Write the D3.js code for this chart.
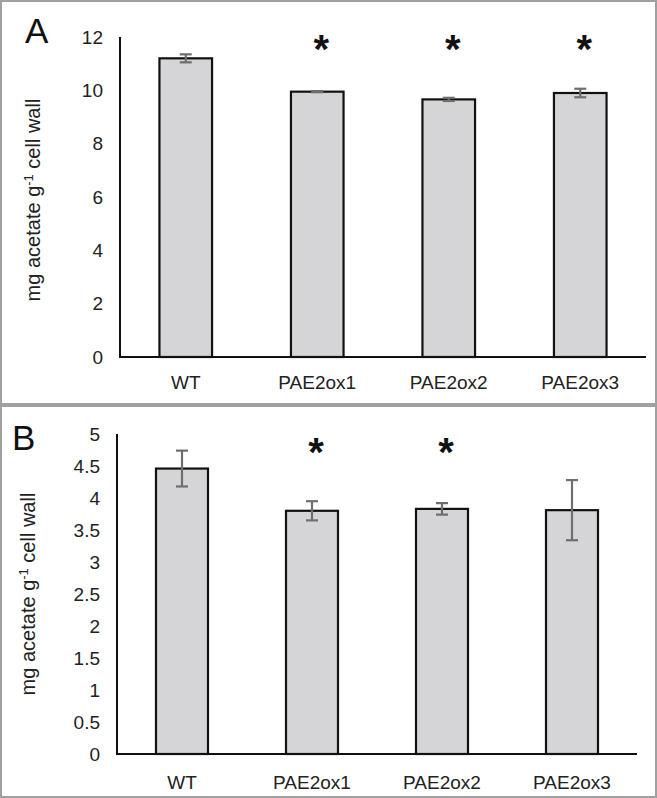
<!DOCTYPE html>
<html>
<head>
<meta charset="utf-8">
<script src="https://cdn.jsdelivr.net/npm/d3@7"></script>
<style>
  html, body { margin: 0; padding: 0; background: #fff; }
  svg { display: block; }
  text { font-family: "Liberation Sans", Arial, sans-serif; }
</style>
</head>
<body>
<svg id="chart" width="657" height="798"></svg>
<script>
// ---- data ----
const categories = ["WT", "PAE2ox1", "PAE2ox2", "PAE2ox3"];
const meansA = [11.2, 9.95, 9.66, 9.9];
const errorsA = [0.15, 0.02, 0.06, 0.16];
const significantA = [false, true, true, true];
const ticksA = [0, 2, 4, 6, 8, 10, 12];

const meansB = [4.46, 3.80, 3.83, 3.81];
const errorsB = [0.28, 0.15, 0.09, 0.47];
const significantB = [false, true, true, false];
const ticksB = [0, 0.5, 1, 1.5, 2, 2.5, 3, 3.5, 4, 4.5, 5];

const yTitle = "mg acetate g";

const svg = d3.select("#chart");

// panel frames
svg.append("rect").attr("x", 1).attr("y", 1).attr("width", 655).attr("height", 403)
  .attr("fill", "none").attr("stroke", "#a0a0a0").attr("stroke-width", 2);
svg.append("rect").attr("x", 1).attr("y", 406).attr("width", 655).attr("height", 391)
  .attr("fill", "none").attr("stroke", "#a0a0a0").attr("stroke-width", 2);

function panel(cfg) {
  const g = svg.append("g");
  const x = d3.scaleBand().domain(categories).range([cfg.x0, cfg.x1])
    .paddingInner(0.6).paddingOuter(0.3);
  const y = d3.scaleLinear().domain([0, cfg.ymax]).range([cfg.yBottom, cfg.yTop]);

  // y axis
  const yAxis = d3.axisLeft(y).tickValues(cfg.ticks).tickSize(0).tickPadding(17)
    .tickFormat(d3.format("~g"));
  const ya = g.append("g").attr("transform", `translate(${cfg.x0},0)`).call(yAxis);
  ya.select(".domain").remove();
  ya.selectAll("text").attr("font-size", 19).attr("fill", "#222")
    .style("font-family", "'Liberation Sans', Arial, sans-serif");

  // bars
  const data = categories.map((c, i) => ({ c, m: cfg.means[i], e: cfg.errors[i], s: cfg.sig[i] }));
  g.selectAll("rect.bar").data(data).join("rect").attr("class", "bar")
    .attr("x", d => x(d.c)).attr("width", x.bandwidth())
    .attr("y", d => y(d.m)).attr("height", d => y(0) - y(d.m))
    .attr("fill", "#d5d5d7").attr("stroke", "#111").attr("stroke-width", 2.2);

  // error bars
  const eg = g.selectAll("g.err").data(data).join("g").attr("class", "err")
    .attr("stroke", "#6e6e6e").attr("stroke-width", 2.2);
  eg.append("line")
    .attr("x1", d => x(d.c) + x.bandwidth() / 2).attr("x2", d => x(d.c) + x.bandwidth() / 2)
    .attr("y1", d => y(d.m + d.e)).attr("y2", d => y(d.m - d.e));
  eg.append("line")
    .attr("x1", d => x(d.c) + x.bandwidth() / 2 - 6).attr("x2", d => x(d.c) + x.bandwidth() / 2 + 6)
    .attr("y1", d => y(d.m + d.e)).attr("y2", d => y(d.m + d.e));
  eg.append("line")
    .attr("x1", d => x(d.c) + x.bandwidth() / 2 - 6).attr("x2", d => x(d.c) + x.bandwidth() / 2 + 6)
    .attr("y1", d => y(d.m - d.e)).attr("y2", d => y(d.m - d.e));

  // asterisks
  g.selectAll("text.star").data(data.filter(d => d.s)).join("text").attr("class", "star")
    .attr("x", d => x(d.c) + x.bandwidth() / 2 + 4)
    .attr("y", cfg.starY)
    .attr("text-anchor", "middle").attr("font-size", 40).attr("font-weight", "bold")
    .attr("fill", "#111").text("*");

  // axis lines
  g.append("line").attr("x1", cfg.x0).attr("x2", cfg.x0).attr("y1", cfg.yTop).attr("y2", cfg.yBottom)
    .attr("stroke", "#111").attr("stroke-width", 2);
  g.append("line").attr("x1", cfg.x0 - 1).attr("x2", cfg.x1).attr("y1", cfg.yBottom).attr("y2", cfg.yBottom)
    .attr("stroke", "#111").attr("stroke-width", 2);

  // x labels
  g.selectAll("text.xl").data(categories).join("text").attr("class", "xl")
    .attr("x", d => x(d) + x.bandwidth() / 2).attr("y", cfg.xLabelY)
    .attr("text-anchor", "middle").attr("font-size", 19).attr("fill", "#222").text(d => d);

  // y title
  const t = g.append("text")
    .attr("transform", `translate(${cfg.titleX},${cfg.titleY}) rotate(-90)`)
    .attr("text-anchor", "middle").attr("font-size", 20).attr("fill", "#222");
  t.append("tspan").text(yTitle);
  t.append("tspan").attr("dy", -7).attr("font-size", 13).text("-1");
  t.append("tspan").attr("dy", 7).text(" cell wall");

  // panel letter
  g.append("text").attr("x", cfg.letterX).attr("y", cfg.letterY)
    .attr("font-size", 35).attr("fill", "#111").text(cfg.letter);
}

panel({
  letter: "A", letterX: 25, letterY: 43,
  x0: 120, x1: 646, yTop: 37, yBottom: 357, ymax: 12, ticks: ticksA,
  means: meansA, errors: errorsA, sig: significantA,
  starY: 63, xLabelY: 389, titleX: 40, titleY: 200
});

panel({
  letter: "B", letterX: 12, letterY: 450,
  x0: 117, x1: 637, yTop: 434, yBottom: 754, ymax: 5, ticks: ticksB,
  means: meansB, errors: errorsB, sig: significantB,
  starY: 466, xLabelY: 789, titleX: 35, titleY: 594
});
</script>
</body>
</html>
